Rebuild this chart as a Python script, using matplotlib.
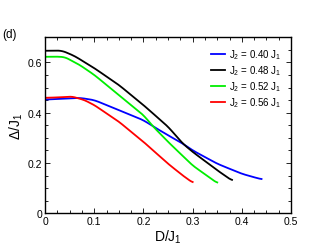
import numpy as np
import matplotlib
matplotlib.use('Agg')
import matplotlib.pyplot as plt
from matplotlib.ticker import MultipleLocator

plt.rcParams['font.family'] = ['Liberation Sans', 'DejaVu Sans']
plt.rcParams['mathtext.fontset'] = 'custom'
plt.rcParams['mathtext.rm'] = 'Liberation Sans'
plt.rcParams['mathtext.it'] = 'Liberation Sans'

# Curvas
d_040 = [0.0, 0.03, 0.05, 0.07, 0.1, 0.15, 0.2, 0.22, 0.25, 0.28, 0.3, 0.35, 0.4, 0.44]
gap_040 = [0.452, 0.455, 0.457, 0.459, 0.45, 0.41, 0.37, 0.345, 0.31, 0.277, 0.25, 0.197, 0.157, 0.135]

d_048 = [0.0, 0.02, 0.035, 0.06, 0.1, 0.15, 0.2, 0.25, 0.28, 0.3, 0.35, 0.38]
gap_048 = [0.646, 0.647, 0.646, 0.625, 0.577, 0.51, 0.43, 0.344, 0.277, 0.244, 0.171, 0.13]

d_052 = [0.0, 0.02, 0.04, 0.07, 0.1, 0.15, 0.2, 0.22, 0.25, 0.3, 0.35]
gap_052 = [0.622, 0.623, 0.621, 0.59, 0.55, 0.47, 0.39, 0.344, 0.284, 0.19, 0.12]

d_056 = [0.0, 0.03, 0.055, 0.08, 0.1, 0.15, 0.2, 0.25, 0.28, 0.3]
gap_056 = [0.459, 0.461, 0.464, 0.45, 0.43, 0.364, 0.284, 0.197, 0.15, 0.122]

x_ticks = [0, 0.1, 0.2, 0.3, 0.4, 0.5]
x_ticklabels = ['0', '0.1', '0.2', '0.3', '0.4', '0.5']
y_ticks = [0, 0.2, 0.4, 0.6]
y_ticklabels = ['0', '0.2', '0.4', '0.6']

series = [
    (d_040, gap_040, '#0000ff', r'J$_2$ = 0.40 J$_1$'),
    (d_048, gap_048, '#000000', r'J$_2$ = 0.48 J$_1$'),
    (d_052, gap_052, '#00ee00', r'J$_2$ = 0.52 J$_1$'),
    (d_056, gap_056, '#ff0000', r'J$_2$ = 0.56 J$_1$'),
]

fig = plt.figure(figsize=(3.27, 2.53), dpi=100)
ax = fig.add_axes([0.138, 0.153, 0.752, 0.696])

for x, y, color, label in series:
    x = np.array(x)
    y = np.array(y)
    # suavizado sencillo entre puntos leidos
    xs = np.linspace(x[0], x[-1], 200)
    ys = np.interp(xs, x, y)
    k = 9
    pad = np.pad(ys, k // 2, mode='edge')
    ys = np.convolve(pad, np.ones(k) / k, mode='valid')
    ax.plot(xs, ys, color=color, lw=1.3, label=label)

ax.set_xlim(0, 0.5)
ax.set_ylim(0, 0.7)
ax.set_xticks(x_ticks)
ax.set_xticklabels(x_ticklabels, fontsize=7.5)
ax.set_yticks(y_ticks)
ax.set_yticklabels(y_ticklabels, fontsize=7.5)
ax.xaxis.set_minor_locator(MultipleLocator(0.025))
ax.yaxis.set_minor_locator(MultipleLocator(0.05))
ax.tick_params(which='both', direction='in', top=True, right=True, width=0.6)
ax.tick_params(which='major', length=3.5, pad=2)
ax.tick_params(which='minor', length=2)
for s in ax.spines.values():
    s.set_linewidth(1.0)

ax.set_xlabel(r'D/J$_1$', fontsize=10, labelpad=1)
ax.set_ylabel(r'$\Delta$/J$_1$', fontsize=10, labelpad=2)

ax.legend(loc='upper right', frameon=False, fontsize=7, handlelength=1.4,
          handletextpad=0.4, labelspacing=0.25, borderaxespad=0.6)

fig.text(0.006, 0.85, '(d)', fontsize=8.5)

fig.savefig('out.png', dpi=100)
